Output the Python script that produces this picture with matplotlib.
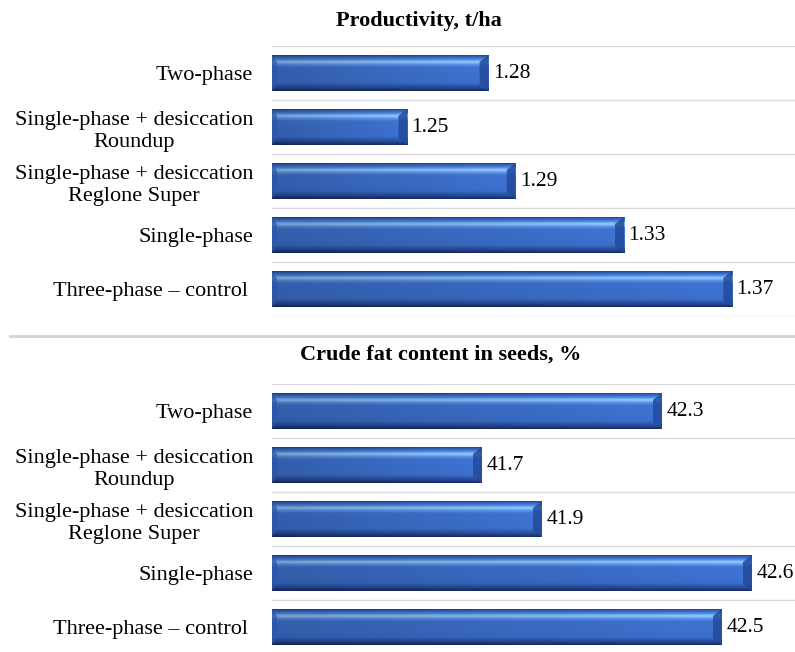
import numpy as np
import matplotlib
matplotlib.use("Agg")
import matplotlib.pyplot as plt
from matplotlib.patches import Polygon
from matplotlib.lines import Line2D
from matplotlib.colors import to_rgb

plt.rcParams['font.family'] = ['Liberation Serif', 'DejaVu Serif']

# dane
categories = ["Two-phase",
              "Single-phase + desiccation\nRoundup",
              "Single-phase + desiccation\nReglone Super",
              "Single-phase",
              "Three-phase \u2013 control "]
productivity = [1.28, 1.25, 1.29, 1.33, 1.37]
fat_content = [42.3, 41.7, 41.9, 42.6, 42.5]

W, H = 795, 652
fig = plt.figure(figsize=(W / 100, H / 100), dpi=100)

# perfil vertical de la barra (arriba -> abajo)
stops = [(0.00, '#172c62'), (0.05, '#2a54a8'), (0.14, '#4a82d6'), (0.21, '#92c5f8'),
         (0.27, '#5d95e2'), (0.35, '#3c6ec8'), (0.78, '#396ac3'), (0.86, '#2c55a6'),
         (0.94, '#213e82'), (1.00, '#152a5c')]


def bar_image(n=80, m=200):
    t = np.linspace(0, 1, n)
    pos = [s[0] for s in stops]
    cols = np.array([to_rgb(s[1]) for s in stops])
    prof = np.stack([np.interp(t, pos, cols[:, k]) for k in range(3)], axis=1)
    shade = np.linspace(0.86, 1.06, m)
    img = prof[:, None, :] * shade[None, :, None]
    return np.clip(img, 0, 1)


def panel(bottom_px, xmin, xmax, values, fmt):
    ax = fig.add_axes([272 / W, 1 - bottom_px / H, 523 / W, 270 / H])
    pos = np.arange(len(values))
    bars = ax.barh(pos, np.array(values) - xmin, left=xmin, height=0.67,
                   color='#3868c0', zorder=2)
    bx = 9 * (xmax - xmin) / 523
    by = 7 / 54
    img = bar_image()
    for p, v, b in zip(pos, values, bars):
        top, bot = p - 0.335, p + 0.335
        im = ax.imshow(img, extent=(xmin, v, bot, top), aspect='auto',
                       interpolation='bilinear', zorder=3)
        im.set_clip_path(b)
        # bisel de los extremos
        ax.add_patch(Polygon([(v - bx, top + by), (v, top), (v, bot), (v - bx, bot - by)],
                             closed=True, facecolor='#234a9c', edgecolor='none',
                             alpha=0.85, zorder=4))
        ax.add_patch(Polygon([(xmin, top), (xmin + bx * 0.55, top + by),
                              (xmin + bx * 0.55, bot - by), (xmin, bot)],
                             closed=True, facecolor='#2c55a8', edgecolor='none',
                             alpha=0.7, zorder=4))
        ax.annotate(fmt.format(v), (v, p), xytext=(3, 0), textcoords='offset points',
                    va='center', ha='left', fontsize=15.5)
    for g in np.arange(-0.5, len(values)):
        ax.axhline(g, color='#d9d9d9', lw=1, zorder=1)
    ax.set_xlim(xmin, xmax)
    ax.set_ylim(len(values) - 0.5, -0.5)
    ax.set_yticks(pos, categories, fontsize=16, multialignment='center',
                  linespacing=1.25)
    ax.set_xticks([])
    ax.tick_params(left=False, length=0, pad=13.5)
    for s in ax.spines.values():
        s.set_visible(False)
    return ax


panel(316, 1.20, 1.20 + 523 / 2708, productivity, "{:.2f}")
panel(654, 41.0, 41.0 + 523 / 300, fat_content, "{:.1f}")

fig.text(419 / W, 1 - 21 / H, "Productivity, t/ha", ha='center', va='center',
         fontsize=16, fontweight='bold')
fig.text(441 / W, 1 - 355 / H, "Crude fat content in seeds, %", ha='center', va='center',
         fontsize=16, fontweight='bold')
fig.add_artist(Line2D([10 / W, 1], [1 - 336 / H] * 2, color='#d3d3d3', lw=2))

fig.savefig("out.png", dpi=100)
